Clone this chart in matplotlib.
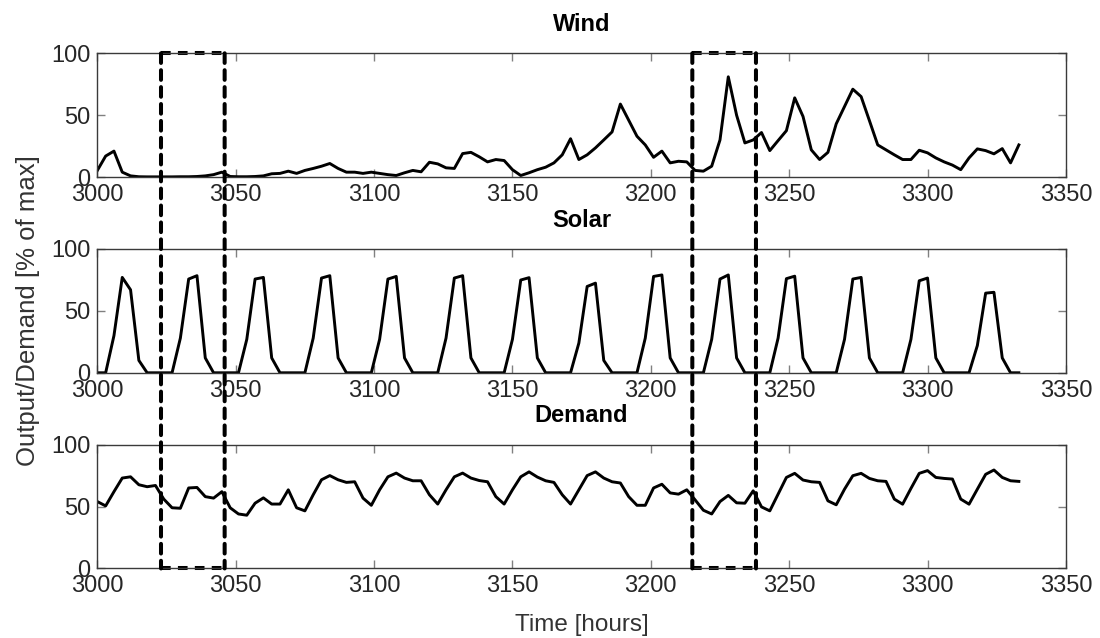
import matplotlib
matplotlib.use("Agg")
import matplotlib.pyplot as plt
from matplotlib.patches import ConnectionPatch
import numpy as np

plt.rcParams['font.family'] = ['Liberation Sans', 'DejaVu Sans']

# 3-hourly samples, one row per day
start_hour = 3000
step_hours = 3

wind = [5.4, 17, 21, 4, 1, 0.3, 0.2, 0.2,
        0.2, 0.2, 0.3, 0.3, 0.5, 1, 2, 4,
        0.5, 0.3, 0.3, 0.5, 1, 2.7, 3, 4.8,
        3, 5.4, 7, 8.8, 11, 7, 4, 4,
        3, 4, 3, 2, 1.3, 3.5, 5.4, 4.3,
        12, 10.7, 7.5, 7, 19, 20, 16.4, 12.3,
        14.2, 13.4, 6, 1.3, 3.5, 6, 8, 11.5,
        18, 31, 14.2, 18, 23.6, 30, 36.5, 59,
        46, 33, 26, 16, 21, 11.5, 12.8, 12.3,
        5.4, 4.8, 8.8, 30, 81, 50, 27.6, 30,
        36, 21.4, 29.5, 37.5, 64, 49, 22, 14.2,
        20, 43, 57, 71, 65, 45.6, 26, 22,
        18, 14.2, 14.2, 21.7, 19.6, 15.5, 12.3, 9.7,
        6, 15.5, 22.8, 21.4, 18.8, 23, 11.5, 26]

solar = [0, 0, 30, 77, 67, 10, 0, 0,
         0, 0, 28, 75.7, 78.4, 12, 0, 0,
         0, 0, 27, 75.7, 77, 12, 0, 0,
         0, 0, 28, 76.5, 78.4, 12, 0, 0,
         0, 0, 27, 75.7, 77.8, 12, 0, 0,
         0, 0, 28, 76.5, 78.4, 12, 0, 0,
         0, 0, 27, 74.9, 76.8, 12, 0, 0,
         0, 0, 24, 69.7, 72.4, 10, 0, 0,
         0, 0, 28, 77.8, 79, 12, 0, 0,
         0, 0, 27, 75.7, 79, 12, 0, 0,
         0, 0, 28, 76, 78, 12, 0, 0,
         0, 0, 27, 75.7, 77, 12, 0, 0,
         0, 0, 27, 74.3, 76.5, 12, 0, 0,
         0, 0, 22, 64.3, 65, 12, 0, 0]

demand = [54, 50.5, 62, 73, 74, 67.6, 66, 67,
          56, 49, 48.6, 65, 65.4, 58, 56.8, 62,
          49, 44, 43, 52.7, 57, 52, 52, 63.5,
          49, 46.5, 59.5, 71.6, 75, 71.6, 69.5, 70,
          56.8, 51, 63.5, 74, 77, 73, 70.8, 70.8,
          59.5, 52, 63.5, 74, 77, 73, 71, 70,
          58, 52, 63.5, 74, 78, 73.8, 70.8, 69.5,
          59.5, 52, 63.5, 75, 78, 73, 70, 69,
          58, 51, 51, 65, 68, 61, 60, 63.5,
          55.4, 47, 44, 54, 59, 53, 52.7, 62.7,
          49.7, 46.5, 60, 73.5, 76.8, 71.4, 70, 69.5,
          54.6, 51.4, 64, 74.9, 76.8, 72.7, 70.8, 70.3,
          56, 51.9, 64.6, 76.8, 79, 73.5, 72.7, 72.2,
          56, 51.9, 64, 76, 79.5, 73.5, 70.8, 70.3]

hours = start_hour + step_hours * np.arange(len(wind))

titles = ['Wind', 'Solar', 'Demand']
x_ticks = [3000, 3050, 3100, 3150, 3200, 3250, 3300, 3350]
y_ticks = [0, 50, 100]

# highlighted windows (hours)
box_starts = [3023, 3215]
box_ends = [3046, 3238]


def style_axis(ax, title):
    ax.set(xlim=(3000, 3350), ylim=(0, 100),
           xticks=x_ticks, yticks=y_ticks)
    ax.set_title(title, fontsize=17, fontweight='bold', pad=16)
    ax.tick_params(direction='in', top=True, right=True,
                   length=6, width=1, color='#808080',
                   labelsize=17, labelcolor='#262626', pad=5)
    for s in ax.spines.values():
        s.set_color('#3a3a3a')
        s.set_linewidth(1)


fig, axes = plt.subplots(3, 1, figsize=(11, 6.38), dpi=100)
plt.subplots_adjust(left=0.0885, right=0.969,
                    top=0.9165, bottom=0.109, hspace=0.58)

for ax, series, title in zip(axes, [wind, solar, demand], titles):
    ax.plot(hours, series, color='black', lw=2.1)
    style_axis(ax, title)

axes[1].set_ylabel('Output/Demand [% of max]', fontsize=18.5,
                   color='#333333', labelpad=8)
axes[2].set_xlabel('Time [hours]', fontsize=17.5,
                   color='#333333', labelpad=12)

dash = (0, (2.4, 1.8))
top = axes[0].get_ylim()[1]
bottom = axes[2].get_ylim()[0]

for x0, x1 in zip(box_starts, box_ends):
    for x in (x0, x1):
        con = ConnectionPatch(xyA=(x, top), coordsA=axes[0].transData,
                              xyB=(x, bottom), coordsB=axes[2].transData,
                              color='black', lw=2.9, linestyle=dash)
        fig.add_artist(con)
    axes[0].plot([x0, x1], [top, top], color='black', lw=2.9,
                 linestyle=dash, clip_on=False)
    axes[2].plot([x0, x1], [bottom, bottom], color='black', lw=2.9,
                 linestyle=dash, clip_on=False)

fig.savefig('out.png', dpi=100)
